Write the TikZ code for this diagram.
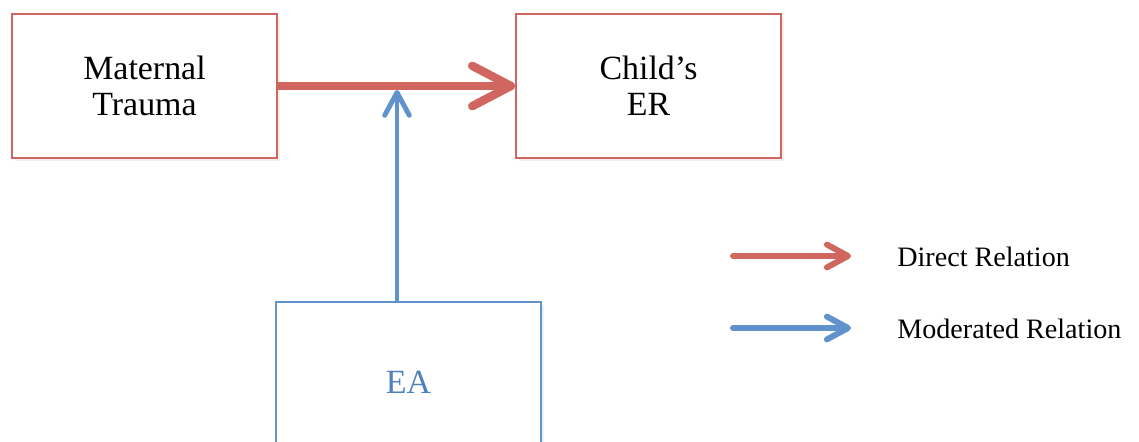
\documentclass[tikz,border=0pt]{standalone}
\usepackage{fontspec}
\setmainfont{Liberation Serif}
\usetikzlibrary{arrows.meta,shadows}

\definecolor{traumared}{RGB}{209,102,97}
\definecolor{modblue}{RGB}{96,146,204}
\definecolor{eatext}{RGB}{79,129,189}

\begin{document}
\begin{tikzpicture}[x=0.02cm,y=-0.02cm,
    varbox/.style={rectangle, draw=#1, line width=1.1pt, fill=white,
        minimum width=5.3cm, minimum height=2.88cm, align=center,
        font=\fontsize{19.3}{20.5}\selectfont,
        drop shadow={opacity=0.12, shadow xshift=1.5pt, shadow yshift=-1.5pt}},
    legendarrow/.style={draw=#1, line width=3.4pt, line cap=round,
        -{Straight Barb[round, length=12pt, width=13pt]}},
    legendtext/.style={anchor=west, inner sep=0pt, font=\fontsize{16}{18}\selectfont}]
    \useasboundingbox (0,0) rectangle (1139,441);
    \clip (0,0) rectangle (1139,441);

    % variables
    \node [varbox=traumared] (trauma) at (144.5,86) {Maternal\\Trauma};
    \node [varbox=traumared] (child) at (648.5,86) {Child’s\\ER};
    \node [varbox=modblue, minimum height=3.2cm, text=eatext] (ea) at (408.5,382) {EA};

    % direct path
    \draw [traumared, line width=4.8pt,
        -{Straight Barb[round, length=22pt, width=23pt]}] (trauma.east) -- (child.west);

    % moderation
    \coordinate (hit) at (397,90);
    \draw [modblue, line width=2.8pt,
        -{Straight Barb[round, length=13pt, width=14pt]}] (hit |- ea.north) -- (hit);

    % legend
    \coordinate (dstart) at (733,256);
    \coordinate (dend) at (851,256);
    \coordinate (mstart) at (733,328);
    \coordinate (mend) at (851,328);
    \draw [legendarrow=traumared] (dstart) -- (dend);
    \draw [legendarrow=modblue] (mstart) -- (mend);
    \node [legendtext] (dlabel) at (897,257) {Direct Relation};
    \node [legendtext] (mlabel) at (897,329) {Moderated Relation};
\end{tikzpicture}
\end{document}
